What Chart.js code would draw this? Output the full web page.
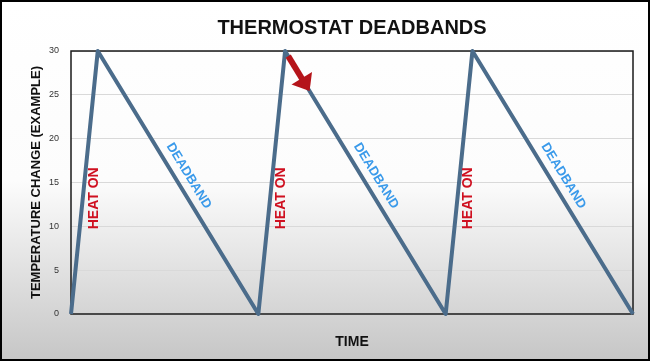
<!DOCTYPE html>
<html>
<head>
<meta charset="utf-8">
<script src="https://cdn.jsdelivr.net/npm/chart.js@4/dist/chart.umd.min.js"></script>
<style>
  html, body { margin: 0; padding: 0; background: #fff; }
  #wrap { width: 650px; height: 361px; position: relative; }
</style>
</head>
<body>
<div id="wrap"><canvas id="chart"></canvas></div>
<script>
// data
const times = [0, 1, 7, 8, 14, 15, 21];
const temps = [0, 30, 0, 30, 0, 30, 0];
const yTicks = [0, 5, 10, 15, 20, 25, 30];

const titleText = "THERMOSTAT DEADBANDS";
const xTitle = "TIME";
const yTitle = "TEMPERATURE CHANGE (EXAMPLE)";
const riseLabel = "HEAT ON";
const fallLabel = "DEADBAND";

const color = {
  line: "#4b6c8b",
  red: "#cf1020",
  arrow: "#b5141a",
  blue: "#3a9aea",
  grid: "#d9d9d9",
  text: "#111111",
};
const FONT = "'Liberation Sans', Arial, Helvetica, sans-serif";

// background, frame, title
const framePlugin = {
  id: "frame",
  beforeDraw(chart) {
    const { ctx, width, height } = chart;
    const g = ctx.createLinearGradient(0, 0, 0, height);
    g.addColorStop(0, "#ffffff");
    g.addColorStop(0.5, "#fcfcfc");
    g.addColorStop(1, "#c6c6c6");
    ctx.save();
    ctx.fillStyle = g;
    ctx.fillRect(0, 0, width, height);
    ctx.restore();
  },
  beforeDatasetsDraw(chart) {
    const { ctx, chartArea: a } = chart;
    ctx.save();
    ctx.strokeStyle = "#1a1a1a";
    ctx.lineWidth = 1.5;
    ctx.strokeRect(a.left, a.top, a.right - a.left, a.bottom - a.top);
    ctx.restore();
  },
  afterDraw(chart) {
    const { ctx, width, height, chartArea: a } = chart;
    ctx.save();
    ctx.fillStyle = color.text;
    ctx.font = "bold 20px " + FONT;
    ctx.textAlign = "center";
    ctx.textBaseline = "alphabetic";
    ctx.fillText(titleText, (a.left + a.right) / 2, 34);
    ctx.strokeStyle = "#000";
    ctx.lineWidth = 2;
    ctx.strokeRect(1, 1, width - 2, height - 2);
    ctx.restore();
  },
};

// HEAT ON / DEADBAND labels and the red arrow, placed along the data segments
const notesPlugin = {
  id: "notes",
  afterDatasetsDraw(chart) {
    const { ctx } = chart;
    const xs = chart.scales.x, ys = chart.scales.y;
    const pts = times.map((t, i) => [xs.getPixelForValue(t), ys.getPixelForValue(temps[i])]);
    ctx.save();
    ctx.textAlign = "center";
    ctx.textBaseline = "middle";
    let peak = 0;
    for (let i = 0; i < pts.length - 1; i++) {
      const [x0, y0] = pts[i], [x1, y1] = pts[i + 1];
      const dx = x1 - x0, dy = y1 - y0, len = Math.hypot(dx, dy);
      const ux = dx / len, uy = dy / len;
      if (dy < 0) {
        // rising: heat on
        const f = 0.44;
        ctx.save();
        ctx.translate(x0 + dx * f + 11, y0 + dy * f);
        ctx.rotate(-Math.PI / 2);
        ctx.font = "bold 14px " + FONT;
        ctx.fillStyle = color.red;
        ctx.fillText(riseLabel, 0, 0);
        ctx.restore();
      } else {
        // falling: deadband
        const nx = uy, ny = -ux;
        ctx.save();
        ctx.translate(x0 + dx * 0.5 + nx * 12.5, y0 + dy * 0.5 + ny * 12.5);
        ctx.rotate(Math.atan2(dy, dx));
        ctx.font = "bold 13px " + FONT;
        ctx.fillStyle = color.blue;
        ctx.fillText(fallLabel, 0, 0);
        ctx.restore();
        peak++;
        if (peak === 2) {
          const s = 6, tip = 47, head = 15, hw = 12;
          const bx = x0 + ux * (tip - head), by = y0 + uy * (tip - head);
          ctx.strokeStyle = color.arrow;
          ctx.fillStyle = color.arrow;
          ctx.lineWidth = 6;
          ctx.beginPath();
          ctx.moveTo(x0 + ux * s, y0 + uy * s);
          ctx.lineTo(bx + ux * 2, by + uy * 2);
          ctx.stroke();
          ctx.beginPath();
          ctx.moveTo(x0 + ux * tip, y0 + uy * tip);
          ctx.lineTo(bx + nx * hw, by + ny * hw);
          ctx.lineTo(bx - nx * hw, by - ny * hw);
          ctx.closePath();
          ctx.fill();
        }
      }
    }
    ctx.restore();
  },
};

new Chart(document.getElementById("chart"), {
  type: "line",
  data: {
    datasets: [{
      data: times.map((t, i) => ({ x: t, y: temps[i] })),
      borderColor: color.line,
      borderWidth: 4,
      borderJoinStyle: "round",
      pointRadius: 0,
      tension: 0,
      clip: false,
    }],
  },
  options: {
    responsive: true,
    maintainAspectRatio: false,
    animation: false,
    layout: { padding: { top: 51, right: 17, left: 0, bottom: 0 } },
    plugins: { legend: { display: false }, tooltip: { enabled: false }, title: { display: false } },
    scales: {
      x: {
        type: "linear",
        min: times[0],
        max: times[times.length - 1],
        grid: { display: false },
        border: { display: false },
        ticks: { display: false },
        title: {
          display: true,
          text: xTitle,
          color: color.text,
          font: { family: FONT, size: 14, weight: "bold" },
          padding: { top: 0, bottom: 10 },
        },
        afterFit: (s) => { s.height = 47; },
      },
      y: {
        min: 0,
        max: 30,
        afterBuildTicks: (s) => { s.ticks = yTicks.map((v) => ({ value: v })); },
        grid: { color: color.grid, lineWidth: 1, drawTicks: false },
        border: { display: false },
        ticks: {
          padding: 12,
          color: "#333",
          font: { family: FONT, size: 9 },
        },
        title: {
          display: true,
          text: yTitle,
          color: color.text,
          font: { family: FONT, size: 13, weight: "bold" },
          padding: { top: 29, bottom: 0 },
        },
        afterFit: (s) => { s.width = 71; },
      },
    },
  },
  plugins: [framePlugin, notesPlugin],
});
</script>
</body>
</html>
